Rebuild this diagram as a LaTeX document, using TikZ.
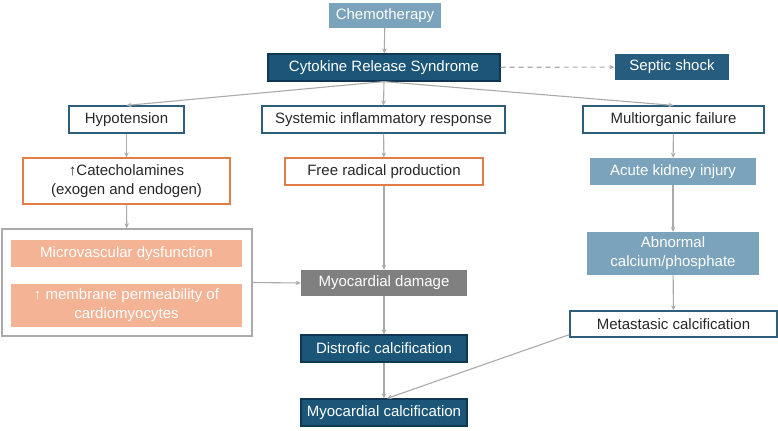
\documentclass[tikz,border=0pt]{standalone}
\usepackage{fontspec}
\setmainfont{Liberation Sans}
\usetikzlibrary{arrows.meta,calc}
\definecolor{lightblue}{RGB}{123,163,188}
\definecolor{darkblue}{RGB}{27,85,120}
\definecolor{darkborder}{RGB}{15,55,82}
\definecolor{edgeblue}{RGB}{45,95,125}
\definecolor{orangeb}{RGB}{226,125,72}
\definecolor{salmon}{RGB}{243,179,148}
\definecolor{graybox}{RGB}{128,128,128}
\definecolor{arrowgray}{RGB}{170,170,170}
\definecolor{txt}{RGB}{40,40,40}
\tikzset{
  base/.style={rectangle, inner sep=0pt, align=center, font=\fontsize{15bp}{19bp}\selectfont},
  lightbox/.style={base, fill=lightblue, text=white},
  darkbox/.style={base, fill=darkblue, draw=darkborder, line width=1.2bp, text=white},
  whitebox/.style={base, fill=white, draw=edgeblue, line width=1.2bp, text=txt},
  orangebox/.style={base, fill=white, draw=orangeb, line width=1.2bp, text=txt},
  salmonbox/.style={base, fill=salmon, text=white},
  graynode/.style={base, fill=graybox, text=white},
  groupbox/.style={rectangle, draw=arrowgray, line width=1.4bp},
  conn/.style={draw=arrowgray, line width=1.1bp, -{Stealth[length=5bp,width=4.5bp]}},
  dconn/.style={conn, dashed, dash pattern=on 5bp off 4bp}
}
\begin{document}
\begin{tikzpicture}[x=1bp,y=-1bp]
\useasboundingbox (0,0) rectangle (778,430);
% nodes
\node[lightbox, minimum width=112bp, minimum height=25bp] (chemo) at (385,15.5) {Chemotherapy};
\node[darkbox, minimum width=232bp, minimum height=27bp] (crs) at (384,67.5) {Cytokine Release Syndrome};
\node[darkbox, fill=darkblue!95!white, draw=none, minimum width=114bp, minimum height=26bp] (septic) at (672,67) {Septic shock};
\node[whitebox, minimum width=115bp, minimum height=27bp] (hypo) at (126.5,119.5) {Hypotension};
\node[whitebox, minimum width=243bp, minimum height=27bp] (sir) at (383.5,119.5) {Systemic inflammatory response};
\node[whitebox, minimum width=181bp, minimum height=27bp] (mof) at (673.5,119.5) {Multiorganic failure};
\node[orangebox, minimum width=207bp, minimum height=46bp] (cat) at (126.5,181) {↑Catecholamines\\(exogen and endogen)};
\node[orangebox, minimum width=198bp, minimum height=27bp] (frp) at (384,171.5) {Free radical production};
\node[lightbox, minimum width=166bp, minimum height=27bp] (aki) at (673,171.5) {Acute kidney injury};
\node[groupbox, minimum width=250bp, minimum height=107bp] (grp) at (127,282.5) {};
\node[salmonbox, minimum width=231bp, minimum height=27bp] (micro) at (126.5,253.5) {Microvascular dysfunction};
\node[salmonbox, minimum width=231bp, minimum height=43bp] (memb) at (126.5,305.5) {↑ membrane permeability of\\cardiomyocytes};
\node[graynode, minimum width=166bp, minimum height=26bp] (mdam) at (384,283) {Myocardial damage};
\node[lightbox, minimum width=172bp, minimum height=43bp] (abn) at (673,253.5) {Abnormal\\calcium/phosphate};
\node[whitebox, minimum width=207bp, minimum height=26bp] (meta) at (673.5,324) {Metastasic calcification};
\node[darkbox, minimum width=166bp, minimum height=27bp] (dist) at (384,348.5) {Distrofic calcification};
\node[darkbox, minimum width=166bp, minimum height=27bp] (mcalc) at (384,412.5) {Myocardial calcification};
% connectors
\draw[conn] (chemo) -- (crs);
\draw[dconn] (crs) -- (septic);
\draw[conn] (crs.south) -- (hypo.north);
\draw[conn] (crs.south) -- (sir.north);
\draw[conn] (crs.south) -- (mof.north);
\draw[conn] (hypo) -- (cat);
\draw[conn] (sir) -- (frp);
\draw[conn] (mof) -- (aki);
\draw[conn] (cat) -- (grp);
\draw[conn] (frp) -- (mdam);
\draw[conn] (grp.east) -- (mdam.west);
\draw[conn] (aki) -- (abn);
\draw[conn] (abn) -- (meta);
\draw[conn] (mdam) -- (dist);
\draw[conn] (dist) -- (mcalc);
\draw[conn] ([yshift=3bp]meta.south west) -- ([xshift=3bp]mcalc.north);
\end{tikzpicture}
\end{document}
